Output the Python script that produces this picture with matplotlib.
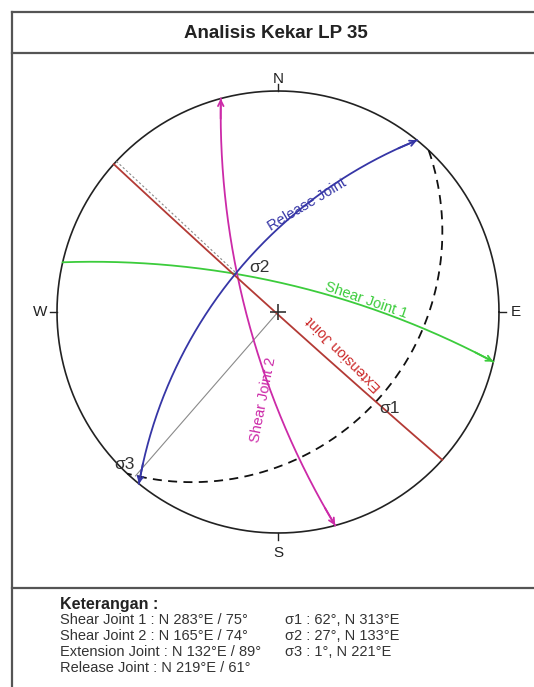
import numpy as np
import matplotlib
matplotlib.use("Agg")
import matplotlib.pyplot as plt
from matplotlib.lines import Line2D

plt.rcParams['font.family'] = ['Liberation Sans', 'DejaVu Sans']

# ---- data ----
title = "Analisis Kekar LP 35"
plane_names = ["Shear Joint 1", "Shear Joint 2", "Extension Joint", "Release Joint"]
plane_strike = [283, 165, 132, 219]
plane_dip = [75, 74, 89, 61]
plane_colors = ["#3ccc3c", "#cc2aa8", "#b33a35", "#3636a6"]
# auxiliary plane (dashed) through sigma points
aux_strike = 43
aux_dip = 28
sigma_names = ["σ1", "σ2", "σ3"]
sigma_plunge = [62, 27, 1]
sigma_trend = [313, 133, 221]
# labels as drawn on the net (point with plunge/trend -> label)
net_sigma_labels = [("σ2", 62, 313), ("σ1", 27, 133), ("σ3", 1, 221)]
legend_left = ["Shear Joint 1 : N 283°E / 75°",
               "Shear Joint 2 : N 165°E / 74°",
               "Extension Joint : N 132°E / 89°",
               "Release Joint : N 219°E / 61°"]
legend_right = ["σ1 : 62°, N 313°E",
                "σ2 : 27°, N 133°E",
                "σ3 : 1°, N 221°E"]


def proj_line(plunge, trend):
    r = np.tan(np.radians(90 - np.asarray(plunge, float)) / 2)
    t = np.radians(trend)
    return r * np.sin(t), r * np.cos(t)


def great_circle(strike, dip, n=361):
    s = np.radians(strike)
    dd = s + np.pi / 2
    d = np.radians(dip)
    sv = np.array([np.sin(s), np.cos(s), 0.0])
    dv = np.array([np.cos(d) * np.sin(dd), np.cos(d) * np.cos(dd), np.sin(d)])
    a = np.linspace(0, np.pi, n)
    v = np.outer(np.cos(a), sv) + np.outer(np.sin(a), dv)
    down = np.clip(v[:, 2], 0, 1)
    plunge = np.degrees(np.arcsin(down))
    trend = np.degrees(np.arctan2(v[:, 0], v[:, 1]))
    return proj_line(plunge, trend)


W, H = 534, 687
fig = plt.figure(figsize=(W / 100, H / 100), dpi=100)

def fx(px):
    return px / W

def fy(py):
    return 1 - py / H

fc = "#555555"
for (x0, y0, x1, y1) in [(12, 12, 12, 687), (12, 12, 534, 12), (12, 53, 534, 53), (12, 588, 534, 588)]:
    fig.add_artist(Line2D([fx(x0), fx(x1)], [fy(y0), fy(y1)], color=fc, lw=1.6,
                          transform=fig.transFigure))

fig.text(fx(276), fy(33), title, ha='center', va='center', fontsize=13.5,
         fontweight='bold', color='#222222')

# stereonet axes
R = 221
cx, cy = 278, 312
lim = 1.1
ax = fig.add_axes([(cx - R * lim) / W, (H - cy - R * lim) / H, 2 * R * lim / W, 2 * R * lim / H])
ax.set_xlim(-lim, lim)
ax.set_ylim(-lim, lim)
ax.set_aspect('equal')
ax.axis('off')

th = np.linspace(0, 2 * np.pi, 721)
ax.plot(np.cos(th), np.sin(th), color='#222222', lw=1.2)

for lab, az, rr in [("N", 0, 1.055), ("E", 90, 1.075), ("S", 180, 1.09), ("W", 270, 1.075)]:
    a = np.radians(az)
    ax.plot([np.sin(a), 1.03 * np.sin(a)], [np.cos(a), 1.03 * np.cos(a)], color='#222222', lw=1.0)
    ax.text(rr * np.sin(a), rr * np.cos(a), lab, ha='center', va='center', fontsize=11,
            color='#222222')

# auxiliary dashed great circle
xa, ya = great_circle(aux_strike, aux_dip)
ax.plot(xa, ya, color='#111111', lw=1.3, ls=(0, (5, 3.5)))

# gray construction lines
sx, sy = proj_line(sigma_plunge, sigma_trend)
ax.plot([0, sx[2]], [0, sy[2]], color='#8a8a8a', lw=0.8)
ex, ey = proj_line(0, 313)
ax.plot([ex, sx[0]], [ey, sy[0]], color='#8a8a8a', lw=0.8, ls=(0, (2, 2)))

# planes
arrow_ends = {0: [1], 1: [0, 1], 2: [], 3: [0, 1]}
for i, (st, dp_, col) in enumerate(zip(plane_strike, plane_dip, plane_colors)):
    x, y = great_circle(st, dp_)
    ax.plot(x, y, color=col, lw=1.3)
    for e in arrow_ends[i]:
        if e == 1:
            tip, tail = (x[-1], y[-1]), (x[-12], y[-12])
        else:
            tip, tail = (x[0], y[0]), (x[11], y[11])
        ax.annotate('', xy=tip, xytext=tail,
                    arrowprops=dict(arrowstyle='->', color=col, lw=1.3,
                                    mutation_scale=10, shrinkA=0, shrinkB=0))

ax.plot([0], [0], marker='+', ms=12, mew=1.2, color='#333333')

def dp(px, py):
    return (px - cx) / R, (cy - py) / R

for text, (px, py), rot, col in [
        ("Release Joint", (307, 205), 31, plane_colors[3]),
        ("Shear Joint 1", (366, 300), -19, plane_colors[0]),
        ("Shear Joint 2", (263, 400), 79, plane_colors[1]),
        ("Extension Joint", (344, 354), 135, "#cc2b2b")]:
    x, y = dp(px, py)
    ax.text(x, y, text, rotation=rot, rotation_mode='anchor', ha='center', va='center',
            fontsize=10.5, color=col)

offsets = {"σ2": (22, -7), "σ1": (12, 4), "σ3": (-11, -11)}
for lab, p, t in net_sigma_labels:
    x, y = proj_line(p, t)
    ox, oy = offsets[lab]
    ax.text(x + ox / R, y - oy / R, lab, ha='center', va='center', fontsize=12.5, color='#333333')

# legend
fig.text(fx(60), fy(604), "Keterangan :", ha='left', va='center', fontsize=11.5,
         fontweight='bold', color='#222222')
for k, s in enumerate(legend_left):
    fig.text(fx(60), fy(620 + 16 * k), s, ha='left', va='center', fontsize=10.5, color='#333333')
for k, s in enumerate(legend_right):
    fig.text(fx(285), fy(620 + 16 * k), s, ha='left', va='center', fontsize=10.5, color='#333333')

fig.savefig("out.png", dpi=100)
